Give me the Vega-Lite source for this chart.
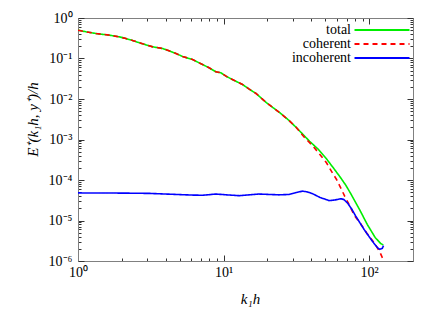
{
  "$schema": "https://vega.github.io/schema/vega-lite/v6.json",
  "width": 335,
  "height": 243,
  "autosize": "none",
  "padding": {"left": 78, "top": 18, "right": 23, "bottom": 48},
  "config": {
    "view": {"stroke": "#808080", "strokeWidth": 1},
    "font": "Liberation Serif",
    "axis": {
      "grid": false,
      "domainColor": "#808080",
      "tickColor": "#333333",
      "labelColor": "#000000",
      "labelFont": "Liberation Serif",
      "labelFontSize": 14,
      "labelOverlap": false,
      "labelFlush": false,
      "titleFont": "Liberation Serif",
      "titleFontStyle": "italic",
      "titleFontWeight": "normal",
      "titleFontSize": 15,
      "titleColor": "#000000"
    }
  },
  "data": {
    "values": [
      {"s": "total", "k": 1, "E": 0.5},
      {"s": "total", "k": 1.135, "E": 0.456},
      {"s": "total", "k": 1.33, "E": 0.414},
      {"s": "total", "k": 1.64, "E": 0.377},
      {"s": "total", "k": 1.92, "E": 0.343},
      {"s": "total", "k": 2.13, "E": 0.312},
      {"s": "total", "k": 2.37, "E": 0.278},
      {"s": "total", "k": 2.78, "E": 0.23},
      {"s": "total", "k": 3.26, "E": 0.194},
      {"s": "total", "k": 3.81, "E": 0.177},
      {"s": "total", "k": 4.12, "E": 0.16},
      {"s": "total", "k": 4.71, "E": 0.133},
      {"s": "total", "k": 5.23, "E": 0.112},
      {"s": "total", "k": 6.12, "E": 0.0944},
      {"s": "total", "k": 6.8, "E": 0.078},
      {"s": "total", "k": 7.96, "E": 0.0589},
      {"s": "total", "k": 8.85, "E": 0.0469},
      {"s": "total", "k": 9.58, "E": 0.0443},
      {"s": "total", "k": 10.4, "E": 0.0366},
      {"s": "total", "k": 11.5, "E": 0.0302},
      {"s": "total", "k": 13.5, "E": 0.0228},
      {"s": "total", "k": 15.0, "E": 0.0175},
      {"s": "total", "k": 16.7, "E": 0.0137},
      {"s": "total", "k": 19.7, "E": 0.0081},
      {"s": "total", "k": 24.3, "E": 0.0046},
      {"s": "total", "k": 28, "E": 0.003},
      {"s": "total", "k": 31.7, "E": 0.00195},
      {"s": "total", "k": 35, "E": 0.00135},
      {"s": "total", "k": 39, "E": 0.0009},
      {"s": "total", "k": 45, "E": 0.00056},
      {"s": "total", "k": 51, "E": 0.00033},
      {"s": "total", "k": 57, "E": 0.000195},
      {"s": "total", "k": 63, "E": 0.00012},
      {"s": "total", "k": 69, "E": 0.000075},
      {"s": "total", "k": 75, "E": 0.000045},
      {"s": "total", "k": 86, "E": 0.0000185},
      {"s": "total", "k": 97, "E": 0.000008},
      {"s": "total", "k": 110, "E": 0.0000038},
      {"s": "total", "k": 120, "E": 0.0000027},
      {"s": "total", "k": 125, "E": 0.0000025},

      {"s": "coherent", "k": 1, "E": 0.5},
      {"s": "coherent", "k": 1.135, "E": 0.456},
      {"s": "coherent", "k": 1.33, "E": 0.414},
      {"s": "coherent", "k": 1.64, "E": 0.377},
      {"s": "coherent", "k": 1.92, "E": 0.343},
      {"s": "coherent", "k": 2.13, "E": 0.312},
      {"s": "coherent", "k": 2.37, "E": 0.278},
      {"s": "coherent", "k": 2.78, "E": 0.23},
      {"s": "coherent", "k": 3.26, "E": 0.194},
      {"s": "coherent", "k": 3.81, "E": 0.177},
      {"s": "coherent", "k": 4.12, "E": 0.16},
      {"s": "coherent", "k": 4.71, "E": 0.133},
      {"s": "coherent", "k": 5.23, "E": 0.112},
      {"s": "coherent", "k": 6.12, "E": 0.0944},
      {"s": "coherent", "k": 6.8, "E": 0.078},
      {"s": "coherent", "k": 7.96, "E": 0.0589},
      {"s": "coherent", "k": 8.85, "E": 0.0469},
      {"s": "coherent", "k": 9.58, "E": 0.0443},
      {"s": "coherent", "k": 10.4, "E": 0.0366},
      {"s": "coherent", "k": 11.5, "E": 0.0302},
      {"s": "coherent", "k": 13.5, "E": 0.0228},
      {"s": "coherent", "k": 15.0, "E": 0.0175},
      {"s": "coherent", "k": 16.7, "E": 0.0137},
      {"s": "coherent", "k": 19.7, "E": 0.0081},
      {"s": "coherent", "k": 24.3, "E": 0.0046},
      {"s": "coherent", "k": 28, "E": 0.003},
      {"s": "coherent", "k": 31.7, "E": 0.00195},
      {"s": "coherent", "k": 35, "E": 0.00125},
      {"s": "coherent", "k": 41.2, "E": 0.00068},
      {"s": "coherent", "k": 46, "E": 0.00042},
      {"s": "coherent", "k": 50.9, "E": 0.000266},
      {"s": "coherent", "k": 55, "E": 0.000165},
      {"s": "coherent", "k": 59.7, "E": 0.000103},
      {"s": "coherent", "k": 64, "E": 0.000062},
      {"s": "coherent", "k": 68, "E": 0.0000396},
      {"s": "coherent", "k": 74, "E": 0.000022},
      {"s": "coherent", "k": 79.6, "E": 0.0000128},
      {"s": "coherent", "k": 87, "E": 0.0000085},
      {"s": "coherent", "k": 95.8, "E": 0.000005},
      {"s": "coherent", "k": 104, "E": 0.0000034},
      {"s": "coherent", "k": 112, "E": 0.00000233},
      {"s": "coherent", "k": 119, "E": 0.0000016},
      {"s": "coherent", "k": 124.5, "E": 0.0000011},
      {"s": "coherent", "k": 132, "E": 0.0000006},

      {"s": "incoherent", "k": 1, "E": 0.000048},
      {"s": "incoherent", "k": 2, "E": 0.0000475},
      {"s": "incoherent", "k": 3.09, "E": 0.0000467},
      {"s": "incoherent", "k": 4.71, "E": 0.000044},
      {"s": "incoherent", "k": 6, "E": 0.0000425},
      {"s": "incoherent", "k": 7.17, "E": 0.000042},
      {"s": "incoherent", "k": 8.85, "E": 0.000045},
      {"s": "incoherent", "k": 10.5, "E": 0.000043},
      {"s": "incoherent", "k": 12.8, "E": 0.000041},
      {"s": "incoherent", "k": 15, "E": 0.000043},
      {"s": "incoherent", "k": 17.5, "E": 0.000045},
      {"s": "incoherent", "k": 20.5, "E": 0.000044},
      {"s": "incoherent", "k": 24.1, "E": 0.000043},
      {"s": "incoherent", "k": 28.2, "E": 0.000044},
      {"s": "incoherent", "k": 31.5, "E": 0.000049},
      {"s": "incoherent", "k": 34.8, "E": 0.000053},
      {"s": "incoherent", "k": 37.5, "E": 0.000051},
      {"s": "incoherent", "k": 40.8, "E": 0.000046},
      {"s": "incoherent", "k": 46, "E": 0.000037},
      {"s": "incoherent", "k": 53.1, "E": 0.000031},
      {"s": "incoherent", "k": 58, "E": 0.000032},
      {"s": "incoherent", "k": 63.8, "E": 0.0000345},
      {"s": "incoherent", "k": 67, "E": 0.000033},
      {"s": "incoherent", "k": 71, "E": 0.000027},
      {"s": "incoherent", "k": 76, "E": 0.000019},
      {"s": "incoherent", "k": 80.9, "E": 0.0000128},
      {"s": "incoherent", "k": 92.3, "E": 0.000006},
      {"s": "incoherent", "k": 105, "E": 0.0000031},
      {"s": "incoherent", "k": 114, "E": 0.00000213},
      {"s": "incoherent", "k": 118, "E": 0.00000195},
      {"s": "incoherent", "k": 123, "E": 0.00000205},
      {"s": "incoherent", "k": 125.5, "E": 0.0000024}
    ]
  },
  "layer": [
    {
      "mark": {"type": "line", "strokeWidth": 1.6, "clip": true},
      "encoding": {
        "x": {
          "field": "k", "type": "quantitative",
          "scale": {"type": "log", "domain": [1, 200]},
          "axis": {
            "orient": "bottom",
            "values": [1, 2, 3, 4, 5, 6, 7, 8, 9, 10, 20, 30, 40, 50, 60, 70, 80, 90, 100, 200],
            "labelExpr": "datum.value == 1 ? '10⁰' : datum.value == 10 ? '10¹' : datum.value == 100 ? '10²' : ''",
            "tickSize": {"condition": {"test": "datum.value == 1 || datum.value == 10 || datum.value == 100", "value": -6}, "value": -3},
            "labelPadding": 10,
            "title": "k₁h",
            "titleX": 172,
            "titleY": 30
          }
        },
        "y": {
          "field": "E", "type": "quantitative",
          "scale": {"type": "log", "domain": [0.000001, 1]},
          "axis": {
            "orient": "left",
            "values": [0.000001, 0.000002, 0.000003, 0.000004, 0.000005, 0.000006, 0.000007, 0.000008, 0.000009,
                       0.00001, 0.00002, 0.00003, 0.00004, 0.00005, 0.00006, 0.00007, 0.00008, 0.00009,
                       0.0001, 0.0002, 0.0003, 0.0004, 0.0005, 0.0006, 0.0007, 0.0008, 0.0009,
                       0.001, 0.002, 0.003, 0.004, 0.005, 0.006, 0.007, 0.008, 0.009,
                       0.01, 0.02, 0.03, 0.04, 0.05, 0.06, 0.07, 0.08, 0.09,
                       0.1, 0.2, 0.3, 0.4, 0.5, 0.6, 0.7, 0.8, 0.9, 1],
            "labelExpr": "abs(log(datum.value)/LN10 - round(log(datum.value)/LN10)) < 0.001 ? ['10⁻⁶','10⁻⁵','10⁻⁴','10⁻³','10⁻²','10⁻¹','10⁰'][round(log(datum.value)/LN10)+6] : ''",
            "tickSize": {"condition": {"test": "abs(log(datum.value)/LN10 - round(log(datum.value)/LN10)) < 0.001", "value": -6}, "value": -3},
            "labelPadding": 12,
            "title": "E⁺(k₁h, y⁺)/h",
            "titleY": 101,
            "titleX": -46,
            "titleAngle": -90,
            "titleAlign": "center",
            "titleBaseline": "middle"
          }
        },
        "color": {
          "field": "s", "type": "nominal",
          "scale": {"domain": ["total", "coherent", "incoherent"], "range": ["#00ee00", "#ff0000", "#0000ff"]},
          "legend": {
            "title": null, "orient": "none", "legendX": 297, "legendY": 5, "padding": 0,
            "symbolType": "M-5.5,0H5.5", "symbolSize": 100, "symbolStrokeWidth": 1.8,
            "labelAlign": "right", "labelOffset": -38, "labelFontSize": 14, "labelFont": "Liberation Serif",
            "rowPadding": -1
          }
        },
        "strokeDash": {
          "field": "s", "type": "nominal",
          "scale": {"domain": ["total", "coherent", "incoherent"], "range": [[1, 0], [5, 4], [1, 0]]},
          "legend": {
            "title": null, "orient": "none", "legendX": 297, "legendY": 5, "padding": 0,
            "symbolType": "M-5.5,0H5.5", "symbolSize": 100, "symbolStrokeWidth": 1.8,
            "labelAlign": "right", "labelOffset": -38, "labelFontSize": 14, "labelFont": "Liberation Serif",
            "rowPadding": -1
          }
        }
      }
    },
    {
      "mark": {"type": "line", "opacity": 0},
      "encoding": {
        "x": {
          "field": "k", "type": "quantitative",
          "scale": {"type": "log", "domain": [1, 200]},
          "axis": {
            "orient": "top",
            "values": [1, 2, 3, 4, 5, 6, 7, 8, 9, 10, 20, 30, 40, 50, 60, 70, 80, 90, 100, 200],
            "labels": false, "title": null,
            "tickSize": {"condition": {"test": "datum.value == 1 || datum.value == 10 || datum.value == 100", "value": -6}, "value": -3}
          }
        },
        "y": {
          "field": "E", "type": "quantitative",
          "scale": {"type": "log", "domain": [0.000001, 1]},
          "axis": {
            "orient": "right",
            "values": [0.000001, 0.000002, 0.000003, 0.000004, 0.000005, 0.000006, 0.000007, 0.000008, 0.000009,
                       0.00001, 0.00002, 0.00003, 0.00004, 0.00005, 0.00006, 0.00007, 0.00008, 0.00009,
                       0.0001, 0.0002, 0.0003, 0.0004, 0.0005, 0.0006, 0.0007, 0.0008, 0.0009,
                       0.001, 0.002, 0.003, 0.004, 0.005, 0.006, 0.007, 0.008, 0.009,
                       0.01, 0.02, 0.03, 0.04, 0.05, 0.06, 0.07, 0.08, 0.09,
                       0.1, 0.2, 0.3, 0.4, 0.5, 0.6, 0.7, 0.8, 0.9, 1],
            "labels": false, "title": null,
            "tickSize": {"condition": {"test": "abs(log(datum.value)/LN10 - round(log(datum.value)/LN10)) < 0.001", "value": -6}, "value": -3}
          }
        },
        "detail": {"field": "s", "type": "nominal"}
      }
    }
  ],
  "resolve": {"axis": {"x": "independent", "y": "independent"}}
}
